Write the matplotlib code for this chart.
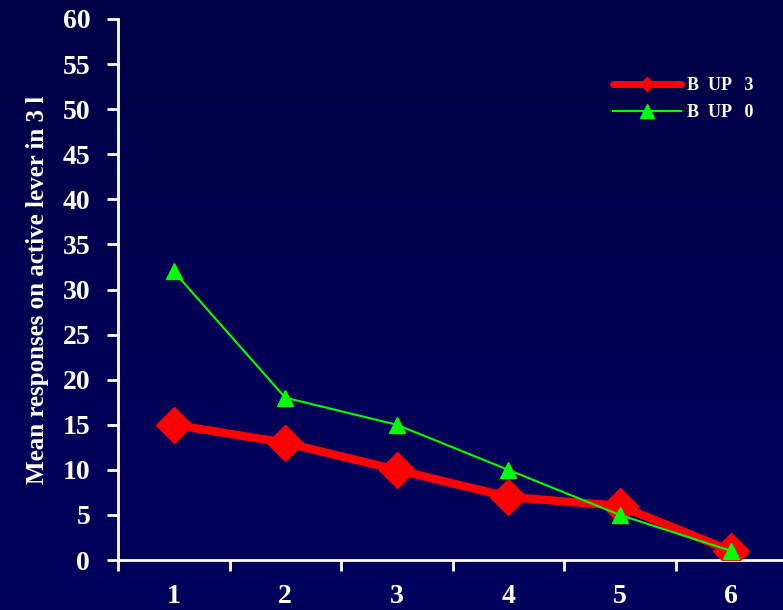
import numpy as np
import matplotlib.pyplot as plt
from matplotlib.colors import LinearSegmentedColormap
from matplotlib.lines import Line2D

# data
sessions = [1, 2, 3, 4, 5, 6]
bup3 = [15, 13, 10, 7, 6, 1]
bup0 = [32, 18, 15, 10, 5, 1]
yticks = list(range(0, 61, 5))
labels = ['B  UP   3', 'B  UP   0']

plt.rcParams['font.family'] = ['Liberation Serif', 'DejaVu Serif']
plt.rcParams['font.weight'] = 'bold'

fig = plt.figure(figsize=(7.83, 6.10), dpi=100)

# dark navy gradient background
bg = fig.add_axes([0, 0, 1, 1], zorder=-1)
grad = np.linspace(0, 1, 256).reshape(-1, 1)
cmap = LinearSegmentedColormap.from_list('bg', ['#000046', '#00005e'])
bg.imshow(grad, aspect='auto', cmap=cmap, extent=[0, 1, 0, 1])
bg.axis('off')

ax = fig.add_axes([118 / 783, 50 / 610, 669 / 783, 541 / 610])
ax.set_facecolor('none')

ax.plot(sessions, bup3, color='#ff0000', lw=6, marker='D', markersize=18,
        solid_capstyle='round', zorder=3)
ax.plot(sessions, bup0, color='#00ff00', lw=1.5, marker='^', markersize=11,
        zorder=4)

ax.set_xlim(0.5, 6.5)
ax.set_ylim(0, 60)
ax.set_yticks(yticks)
ax.set_xticks([s - 0.5 for s in sessions] + [6.5])
ax.set_xticklabels([])
ax.set_xticks(sessions, minor=True)
ax.set_xticklabels([str(s) for s in sessions], minor=True)

for side in ['top', 'right']:
    ax.spines[side].set_visible(False)
for side in ['left', 'bottom']:
    ax.spines[side].set_color('white')
    ax.spines[side].set_linewidth(2)

ax.tick_params(axis='both', which='major', colors='white', width=2, length=8,
               direction='out', labelsize=20)
ax.tick_params(axis='y', pad=12)
ax.tick_params(axis='x', which='minor', colors='white', labelsize=20,
               length=0, pad=17)

ax.set_ylabel('Mean responses on active lever in 3 l', color='white',
              fontsize=18, fontweight='bold', labelpad=10)

# legend with smaller markers than the plotted lines
handles = [
    Line2D([], [], color='#ff0000', lw=5, marker='D', markersize=7,
           solid_capstyle='round'),
    Line2D([], [], color='#00ff00', lw=1.5, marker='^', markersize=10),
]
leg = ax.legend(handles, labels, loc='center left',
                bbox_to_anchor=(0.715, 0.852), frameon=False,
                fontsize=13, handlelength=3.8, labelspacing=0.55,
                handletextpad=0.3)
for t in leg.get_texts():
    t.set_color('white')

fig.savefig('out.png', dpi=100)
